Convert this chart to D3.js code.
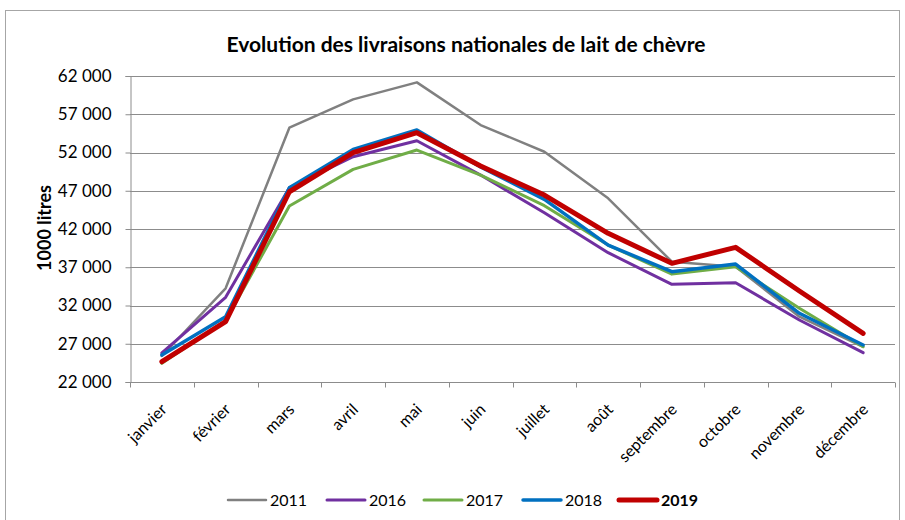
<!DOCTYPE html>
<html>
<head>
<meta charset="utf-8">
<script src="https://cdn.jsdelivr.net/npm/d3@7"></script>
<style>
  body { margin: 0; background: #fff; }
  svg { display: block; font-family: Lato, "Open Sans", sans-serif; }
</style>
</head>
<body>
<svg id="chart" width="905" height="520"></svg>
<script>
// --- data (1000 litres) ---
const months = ["janvier", "février", "mars", "avril", "mai", "juin", "juillet", "août", "septembre", "octobre", "novembre", "décembre"];
const yTicks = [22000, 27000, 32000, 37000, 42000, 47000, 52000, 57000, 62000];

const y2011 = [25400, 34250, 55240, 58950, 61170, 55590, 52100, 46010, 37720, 37070, 30535, 26600];
const y2016 = [25800, 33070, 47400, 51450, 53540, 49050, 44130, 38900, 34770, 34980, 30100, 25830];
const y2017 = [24440, 30000, 45000, 49800, 52320, 49050, 45050, 39900, 36100, 37070, 31630, 26600];
const y2018 = [25530, 30535, 47400, 52400, 54940, 50100, 45880, 39900, 36420, 37420, 30980, 26840];
const y2019 = [24650, 29880, 46870, 51970, 54585, 50230, 46440, 41430, 37510, 39600, 33890, 28360];

const series = [
  { name: "2011", values: y2011, color: "#808080", width: 2.5 },
  { name: "2016", values: y2016, color: "#7030A0", width: 3 },
  { name: "2017", values: y2017, color: "#70AD47", width: 3 },
  { name: "2018", values: y2018, color: "#0070C0", width: 3.5 },
  { name: "2019", values: y2019, color: "#C00000", width: 5, bold: true }
];

// --- layout ---
const svg = d3.select("#chart");
const plot = { left: 130, right: 895, top: 76, bottom: 382 };

// chart frame
svg.append("rect")
  .attr("x", 5.5).attr("y", 10.5)
  .attr("width", 894).attr("height", 530)
  .attr("fill", "none").attr("stroke", "#a6a6a6");

svg.append("text")
  .attr("x", 466).attr("y", 52)
  .attr("text-anchor", "middle")
  .attr("font-size", 21).attr("font-weight", "bold")
  .attr("fill", "#000")
  .text("Evolution des livraisons nationales de lait de chèvre");

const x = d3.scaleBand().domain(months).range([plot.left, plot.right]);
const y = d3.scaleLinear().domain([22000, 62000]).range([plot.bottom, plot.top]);

const fmt = v => d3.format(",")(v).replace(/,/g, " ");

// gridlines
svg.append("g")
  .selectAll("line")
  .data(yTicks)
  .join("line")
  .attr("x1", plot.left).attr("x2", plot.right)
  .attr("y1", d => Math.round(y(d)) + 0.5).attr("y2", d => Math.round(y(d)) + 0.5)
  .attr("stroke", "#8c8c8c").attr("stroke-width", 1);

// y axis
const yAxis = svg.append("g")
  .attr("transform", `translate(${plot.left + 0.5},0)`)
  .call(d3.axisLeft(y).tickValues(yTicks).tickFormat(fmt).tickSize(5).tickPadding(14));
yAxis.select(".domain").attr("stroke", "#8c8c8c");
yAxis.selectAll(".tick line").attr("stroke", "#8c8c8c");
yAxis.selectAll("text").attr("font-size", 17).attr("fill", "#000")
  .attr("font-family", "Lato, sans-serif");

// x axis (ticks at category boundaries)
const xAxisG = svg.append("g").attr("transform", `translate(0,${plot.bottom + 0.5})`);
xAxisG.append("line")
  .attr("x1", plot.left).attr("x2", plot.right)
  .attr("stroke", "#8c8c8c");
xAxisG.selectAll("line.tk")
  .data(months.concat(["end"]))
  .join("line")
  .attr("class", "tk")
  .attr("x1", (d, i) => Math.round(plot.left + i * x.bandwidth()) + 0.5)
  .attr("x2", (d, i) => Math.round(plot.left + i * x.bandwidth()) + 0.5)
  .attr("y1", 0).attr("y2", 5)
  .attr("stroke", "#8c8c8c");

xAxisG.selectAll("text")
  .data(months)
  .join("text")
  .attr("transform", d => `translate(${x(d) + x.bandwidth() / 2 + 6},${28}) rotate(-45)`)
  .attr("text-anchor", "end")
  .attr("font-size", 16)
  .attr("fill", "#000")
  .text(d => d);

// y title
svg.append("text")
  .attr("transform", `translate(51,228) rotate(-90)`)
  .attr("text-anchor", "middle")
  .attr("font-size", 18).attr("font-weight", "bold")
  .text("1000 litres");

// lines
const line = d3.line()
  .x((d, i) => x(months[i]) + x.bandwidth() / 2)
  .y(d => y(d));

svg.append("g")
  .selectAll("path")
  .data(series)
  .join("path")
  .attr("d", d => line(d.values))
  .attr("fill", "none")
  .attr("stroke", d => d.color)
  .attr("stroke-width", d => d.width)
  .attr("stroke-linejoin", "round")
  .attr("stroke-linecap", "round");

// legend
const legendX = [228, 327, 424, 523, 619];
const legend = svg.append("g")
  .selectAll("g")
  .data(series)
  .join("g")
  .attr("transform", (d, i) => `translate(${legendX[i]},500)`);
legend.append("line")
  .attr("x1", 0).attr("x2", 38)
  .attr("stroke", d => d.color)
  .attr("stroke-width", d => d.width)
  .attr("stroke-linecap", "round");
legend.append("text")
  .attr("x", 42).attr("y", 6)
  .attr("font-size", 16)
  .attr("font-weight", d => d.bold ? "bold" : "normal")
  .text(d => d.name);
</script>
</body>
</html>
